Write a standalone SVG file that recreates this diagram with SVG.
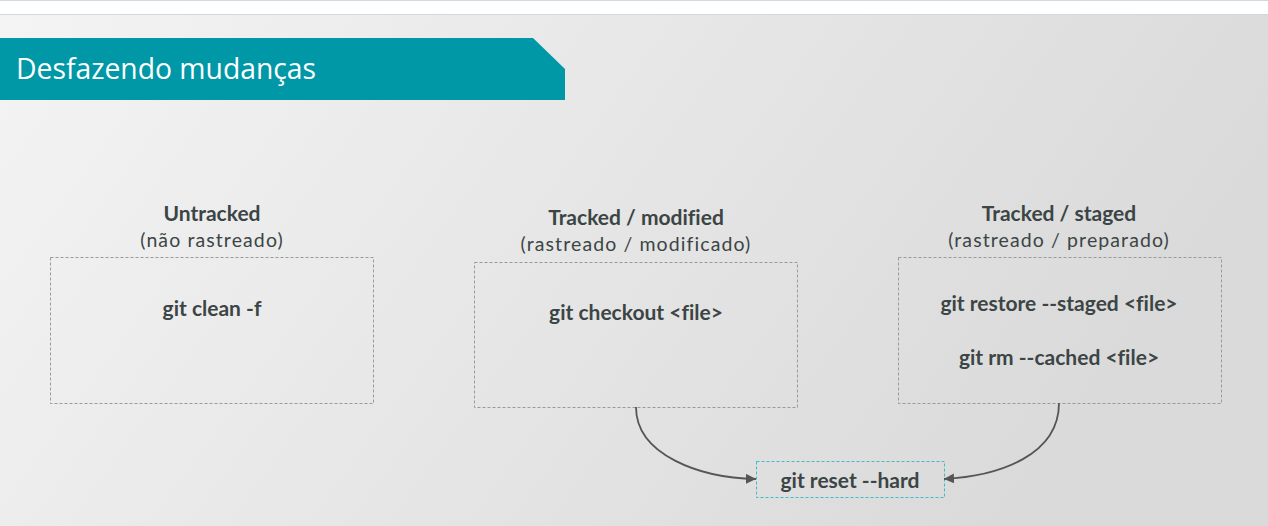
<svg xmlns="http://www.w3.org/2000/svg" width="1268" height="526" viewBox="0 0 1268 526">
<defs>
<linearGradient id="bg" x1="0" y1="0" x2="1" y2="0.3">
<stop offset="0" stop-color="#f4f4f4"/>
<stop offset="1" stop-color="#dadada"/>
</linearGradient>
<marker id="arr" viewBox="0 0 10 10" refX="10" refY="5" markerWidth="10" markerHeight="10" markerUnits="userSpaceOnUse" orient="auto">
<path d="M0,0 L10,5 L0,10 z" fill="#555"/>
</marker>
<style>
.t{font-family:Lato,"Liberation Sans",sans-serif;fill:#3c4545;text-anchor:middle;font-variant-ligatures:none}
.h{font-size:21px;font-weight:bold}
.s{font-size:19.5px;letter-spacing:1.1px}
.c{font-size:21px;font-weight:bold}
.box{fill:none;stroke:#9a9a9a;stroke-width:1;stroke-dasharray:3 2}
.conn{fill:none;stroke:#555;stroke-width:1.8}
</style>
</defs>
<rect width="1268" height="526" fill="url(#bg)"/>
<rect x="0" y="0" width="1268" height="14" fill="#ffffff"/>
<line x1="0" y1="0.5" x2="1268" y2="0.5" stroke="#d3d8dc"/>
<line x1="0" y1="14.5" x2="1268" y2="14.5" stroke="#d3d8dc"/>
<g id="banner">
<path d="M0,38 L533,38 L565,69 L565,100 L0,100 z" fill="#0097a7"/>
<text x="16" y="79" font-family="'Open Sans','Noto Sans',sans-serif" font-size="28.3" fill="#ffffff">Desfazendo mudanças</text>
</g>
<g id="untracked">
<text class="t h" x="212" y="221">Untracked</text>
<text class="t s" x="212" y="247">(não rastreado)</text>
<rect class="box" x="50.5" y="257.5" width="323" height="146"/>
<text class="t c" x="212" y="316">git clean -f</text>
</g>
<g id="modified">
<text class="t h" x="636" y="225">Tracked / modified</text>
<text class="t s" x="636" y="251">(rastreado / modificado)</text>
<rect class="box" x="474.5" y="262.5" width="323" height="145"/>
<text class="t c" x="636" y="320">git checkout &lt;file&gt;</text>
</g>
<g id="staged">
<text class="t h" x="1059" y="221">Tracked / staged</text>
<text class="t s" x="1059" y="247">(rastreado / preparado)</text>
<rect class="box" x="898.5" y="257.5" width="323" height="146"/>
<text class="t c" x="1059" y="311">git restore --staged &lt;file&gt;</text>
<text class="t c" x="1059" y="365">git rm --cached &lt;file&gt;</text>
</g>
<g id="reset">
<rect x="756.5" y="461.5" width="188" height="36" fill="none" stroke="#3bbccb" stroke-width="1" stroke-dasharray="3 2"/>
<text class="t c" x="850" y="488">git reset --hard</text>
</g>
<g id="connectors">
<path class="conn" d="M636,407 C636,455 700,478 756,479" marker-end="url(#arr)"/>
<path class="conn" d="M1059,403 C1059,455 1000,476 944,479" marker-end="url(#arr)"/>
</g>
</svg>
